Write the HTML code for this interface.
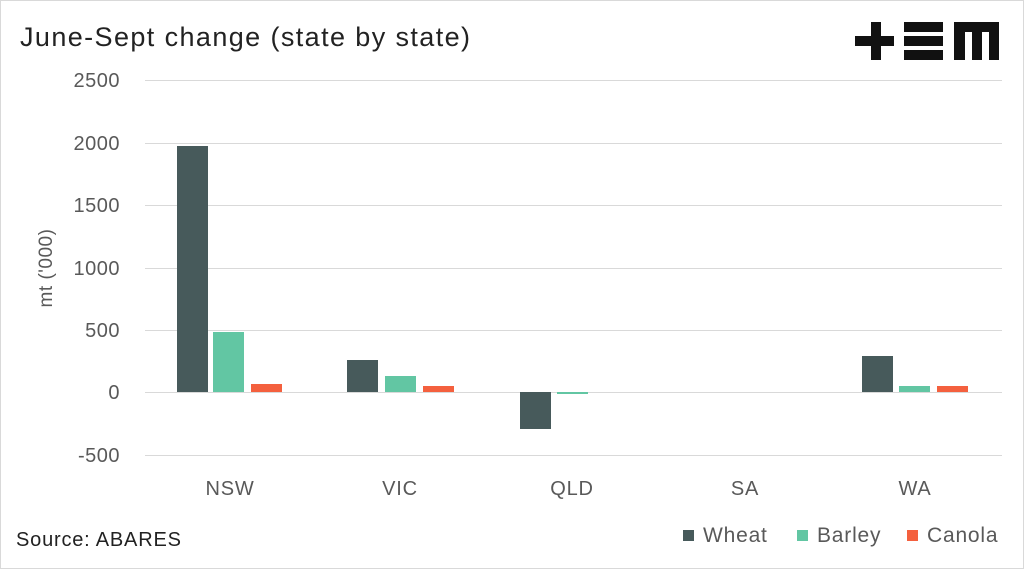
<!DOCTYPE html><html><head><style>body{margin:0;background:#fff}text{font-family:"Liberation Sans",sans-serif}</style></head><body>
<svg width="1024" height="569" xmlns="http://www.w3.org/2000/svg">
<rect x="0.5" y="0.5" width="1023" height="568" fill="#fff" stroke="#d9d9d9"/>
<text x="20" y="46" font-size="27" fill="#222" letter-spacing="1.4">June-Sept change (state by state)</text>
<g fill="#111">
<rect x="855" y="36" width="39" height="10"/><rect x="871" y="22" width="10" height="38"/>
<rect x="904" y="22" width="39" height="10"/><rect x="904" y="36" width="39" height="10"/><rect x="904" y="50" width="39" height="10"/>
<rect x="954" y="22" width="45" height="10"/><rect x="954" y="22" width="11" height="38"/><rect x="972" y="22" width="10" height="38"/><rect x="989" y="22" width="10" height="38"/>
</g>
<g stroke="#d9d9d9" stroke-width="1">
<line x1="145" x2="1002" y1="80.5" y2="80.5"/><line x1="145" x2="1002" y1="143.5" y2="143.5"/><line x1="145" x2="1002" y1="205.5" y2="205.5"/><line x1="145" x2="1002" y1="268.5" y2="268.5"/><line x1="145" x2="1002" y1="330.5" y2="330.5"/><line x1="145" x2="1002" y1="392.5" y2="392.5"/><line x1="145" x2="1002" y1="455.5" y2="455.5"/>
</g>
<g font-size="20" fill="#595959" text-anchor="end" letter-spacing="0.5">
<text x="120" y="87">2500</text><text x="120" y="150">2000</text><text x="120" y="212">1500</text><text x="120" y="275">1000</text><text x="120" y="337">500</text><text x="120" y="399">0</text><text x="120" y="462">-500</text>
</g>
<text transform="translate(52,268) rotate(-90)" font-size="19" fill="#595959" text-anchor="middle" letter-spacing="0.5">mt ('000)</text>
<g fill="#475a5b"><rect x="177" y="146" width="31" height="246"/><rect x="347" y="360" width="31" height="32"/><rect x="520" y="392" width="31" height="37"/><rect x="862" y="356" width="31" height="36"/></g>
<g fill="#62c6a3"><rect x="213" y="332" width="31" height="60"/><rect x="385" y="376" width="31" height="16"/><rect x="557" y="392" width="31" height="2"/><rect x="899" y="386" width="31" height="6"/></g>
<g fill="#f4603e"><rect x="251" y="384" width="31" height="8"/><rect x="423" y="386" width="31" height="6"/><rect x="937" y="386" width="31" height="6"/></g>
<g font-size="20" fill="#595959" text-anchor="middle" letter-spacing="0.8">
<text x="230" y="495">NSW</text><text x="400" y="495">VIC</text><text x="572" y="495">QLD</text><text x="745" y="495">SA</text><text x="915" y="495">WA</text>
</g>
<text x="16" y="546" font-size="20" fill="#222" letter-spacing="0.8">Source: ABARES</text>
<g font-size="21" fill="#595959" letter-spacing="0.8">
<rect x="683" y="530" width="11" height="11" fill="#475a5b"/><text x="703" y="542">Wheat</text>
<rect x="797" y="530" width="11" height="11" fill="#62c6a3"/><text x="817" y="542">Barley</text>
<rect x="907" y="530" width="11" height="11" fill="#f4603e"/><text x="927" y="542">Canola</text>
</g>
</svg></body></html>
